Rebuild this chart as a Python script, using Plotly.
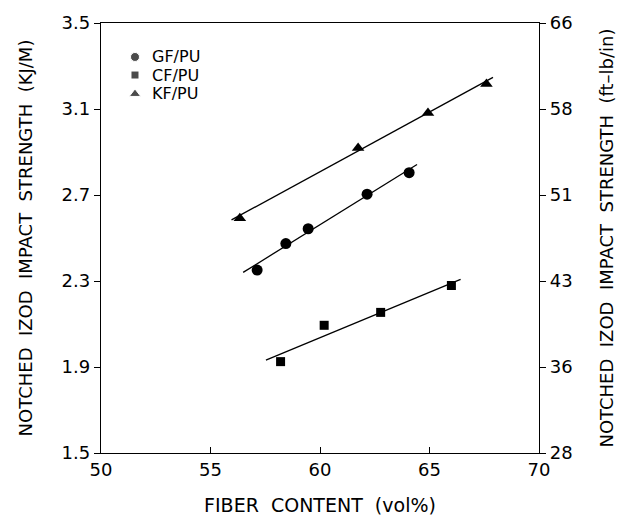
import plotly.graph_objects as go

# Data
gf_x = [57.13, 58.44, 59.46, 62.15, 64.07]
gf_y = [2.351, 2.474, 2.543, 2.704, 2.804]
cf_x = [58.20, 60.19, 62.77, 66.00]
cf_y = [1.925, 2.094, 2.154, 2.279]
kf_x = [56.34, 61.74, 64.93, 67.60]
kf_y = [2.592, 2.919, 3.081, 3.216]

# Fitted line endpoints
gf_fit_x = [56.49, 64.43]
gf_fit_y = [2.340, 2.842]
cf_fit_x = [57.53, 66.42]
cf_fit_y = [1.932, 2.308]
kf_fit_x = [55.96, 67.90]
kf_fit_y = [2.584, 3.247]

left_ticks = [1.5, 1.9, 2.3, 2.7, 3.1, 3.5]
left_labels = ["1.5", "1.9", "2.3", "2.7", "3.1", "3.5"]
right_labels = ["28", "36", "43", "51", "58", "66"]
x_ticks = [50, 55, 60, 65, 70]

legend_labels = ["GF/PU", "CF/PU", "KF/PU"]
legend_symbols = ["circle", "square", "triangle-up"]

FONT = "DejaVu Sans"
fig = go.Figure()

line_style = dict(color="black", width=1.3)
for fx, fy in [(gf_fit_x, gf_fit_y), (cf_fit_x, cf_fit_y), (kf_fit_x, kf_fit_y)]:
    fig.add_trace(go.Scatter(x=fx, y=fy, mode="lines", line=line_style,
                             showlegend=False, hoverinfo="skip"))

fig.add_trace(go.Scatter(x=gf_x, y=gf_y, mode="markers", name="GF/PU", showlegend=False,
                         marker=dict(symbol="circle", size=11, color="black")))
fig.add_trace(go.Scatter(x=cf_x, y=cf_y, mode="markers", name="CF/PU", showlegend=False,
                         marker=dict(symbol="square", size=9, color="black")))
fig.add_trace(go.Scatter(x=kf_x, y=kf_y, mode="markers", name="KF/PU", showlegend=False,
                         marker=dict(symbol="triangle-up", size=11, color="black")))
# invisible trace so the right axis is drawn
fig.add_trace(go.Scatter(x=[50], y=[1.5], yaxis="y2", mode="markers",
                         marker=dict(opacity=0), showlegend=False, hoverinfo="skip"))

# Hand-made legend (symbols on a hidden helper axis in plot-fraction units)
leg_sym_x = 0.0776
leg_txt_x = 0.112
leg_rows = [0.921, 0.879, 0.835]
fig.add_trace(go.Scatter(x=[leg_sym_x] * 3, y=leg_rows, xaxis="x2", yaxis="y3",
                         mode="markers", showlegend=False, hoverinfo="skip",
                         marker=dict(symbol=legend_symbols, size=[9, 8, 10], color="black")))
for lab, yy in zip(legend_labels, leg_rows):
    fig.add_annotation(x=leg_txt_x, y=yy, xref="x2", yref="y3", text=lab,
                       showarrow=False, xanchor="left", yanchor="middle",
                       font=dict(family=FONT, size=16, color="black"))

fig.update_layout(
    width=633, height=516,
    margin=dict(l=101, r=94, t=19, b=63),
    paper_bgcolor="white", plot_bgcolor="white",
    font=dict(family=FONT, color="black", size=18),
    showlegend=False,
    xaxis=dict(range=[50, 70], tickvals=x_ticks, ticks="inside", ticklen=6,
               tickcolor="black", showline=True, linecolor="black", linewidth=1.3,
               mirror=True, showgrid=False, zeroline=False, automargin=False,
               tickfont=dict(size=18),
               title=dict(text="FIBER  CONTENT  (vol%)", font=dict(size=19), standoff=19)),
    xaxis2=dict(range=[0, 1], overlaying="x", visible=False, anchor="y3"),
    yaxis=dict(range=[1.5, 3.5], tickvals=left_ticks, ticktext=left_labels,
               ticks="outside", ticklen=6, tickcolor="black",
               showline=True, linecolor="black", linewidth=1.3,
               showgrid=False, zeroline=False, tickfont=dict(size=18),
               title=dict(text="NOTCHED  IZOD  IMPACT  STRENGTH  (KJ/M)",
                          font=dict(size=18), standoff=24)),
    yaxis2=dict(range=[1.5, 3.5], overlaying="y", side="right", anchor="x",
                tickvals=left_ticks, ticktext=right_labels,
                ticks="outside", ticklen=6, tickcolor="black",
                showline=True, linecolor="black", linewidth=1.3,
                showgrid=False, zeroline=False, tickfont=dict(size=18),
                title=dict(text="NOTCHED  IZOD  IMPACT  STRENGTH  (ft–lb/in)",
                           font=dict(size=18), standoff=28)),
    yaxis3=dict(range=[0, 1], overlaying="y", visible=False, anchor="x2"),
)

fig.write_html("out.html")
